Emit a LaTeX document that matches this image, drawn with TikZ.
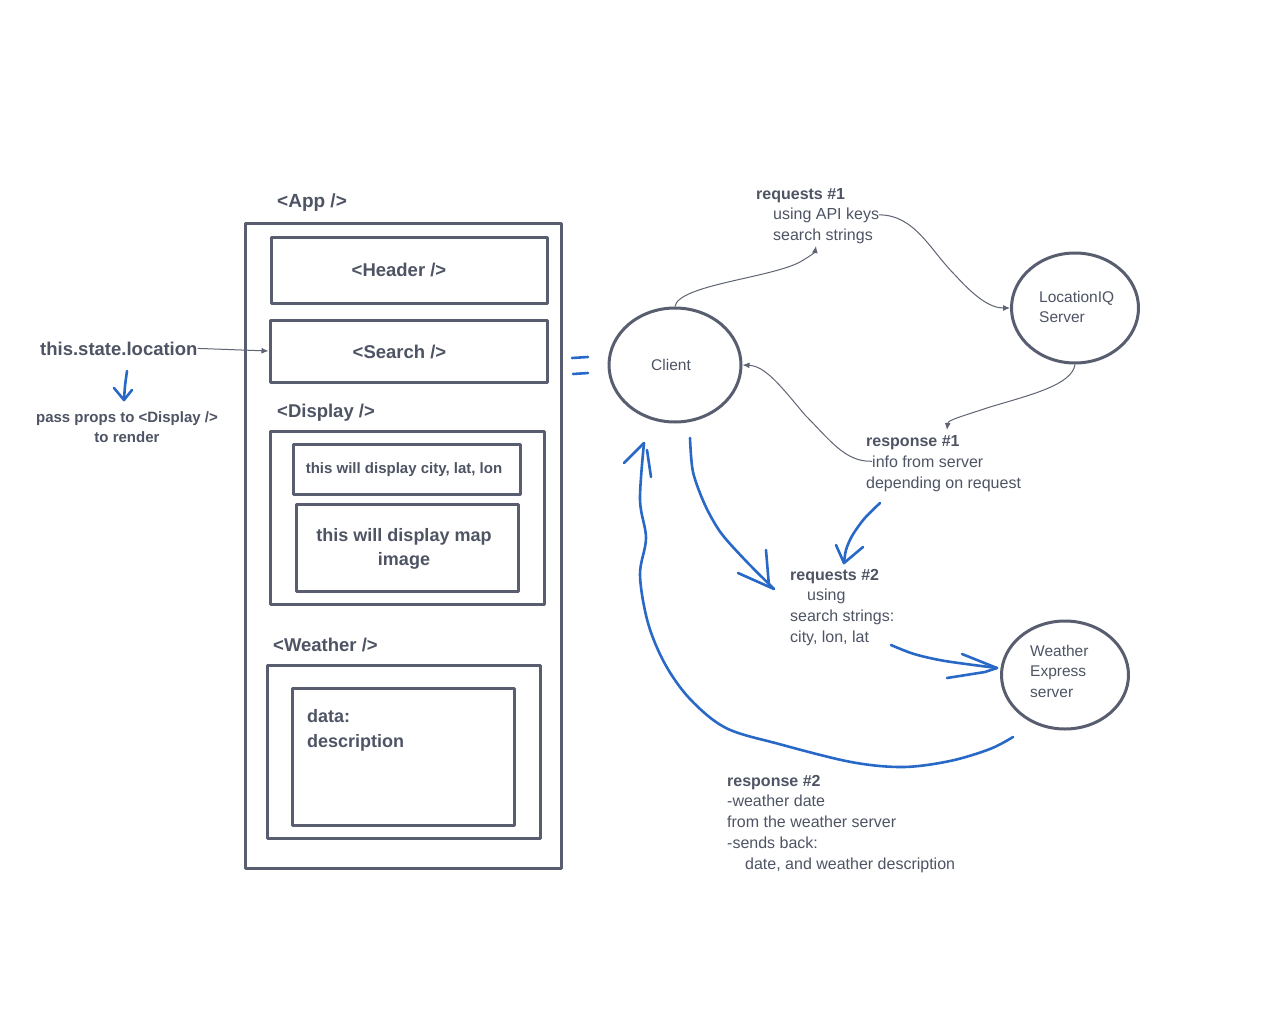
\documentclass[tikz,border=0pt]{standalone}
\usepackage{fontspec}
\setmainfont{Liberation Sans}
\usetikzlibrary{arrows.meta,shapes.geometric}
\definecolor{ink}{RGB}{78,84,100}
\definecolor{boxline}{RGB}{88,94,112}
\definecolor{thinline}{RGB}{95,100,115}
\definecolor{pen}{RGB}{40,105,200}
\tikzset{
  box/.style={draw=boxline, line width=3pt, rectangle, inner sep=0pt, line join=round},
  bubble/.style={draw=boxline, line width=3pt, ellipse, inner sep=0pt},
  txt/.style={text=ink, inner sep=0pt, anchor=base west, font=\fontsize{16}{19}\selectfont},
  ttl/.style={txt, font=\fontsize{16}{19}\selectfont\bfseries},
  ctxt/.style={txt, font=\fontsize{15.5}{19}\selectfont},
  lbl/.style={text=ink, inner sep=0pt, font=\fontsize{18.5}{22}\selectfont\bfseries},
  slbl/.style={text=ink, inner sep=0pt, font=\fontsize{15}{18}\selectfont\bfseries},
  link/.style={draw=thinline, line width=1pt, -{Latex[length=7pt,width=6pt]}},
  penstroke/.style={draw=pen, line width=2.6pt, line cap=round, line join=round},
}
\begin{document}
\begin{tikzpicture}[x=1pt,y=-1pt]
\fill[white] (0,0) rectangle (1278,1036);
\useasboundingbox (0,0) rectangle (1278,1036);

% ---- App component tree ----
\node[box, minimum width=316pt, minimum height=645pt] (app) at (403,545.5) {};
\node[lbl, anchor=base west, font=\fontsize{19}{22}\selectfont\bfseries] (applbl) at (277,207) {<App />};
\node[box, minimum width=276pt, minimum height=66pt] (header) at (409,270) {};
\node[lbl, anchor=base] (headerlbl) at (399,276) {<Header />};
\node[box, minimum width=277pt, minimum height=62pt] (search) at (408.5,351) {};
\node[lbl, anchor=base] (searchlbl) at (399.5,358) {<Search />};
\node[lbl, anchor=base west] (displbl) at (277,417) {<Display />};
\node[box, minimum width=274pt, minimum height=173pt] (display) at (407,517.5) {};
\node[box, minimum width=227pt, minimum height=50pt] (city) at (406.5,469) {};
\node[slbl, anchor=base] (citylbl) at (404,473) {this will display city, lat, lon};
\node[box, minimum width=222pt, minimum height=87pt] (map) at (407,547.5) {};
\node[lbl, anchor=base, font=\fontsize{18}{22}\selectfont\bfseries] (maplbl1) at (404,541) {this will display map};
\node[lbl, anchor=base, font=\fontsize{18}{22}\selectfont\bfseries] (maplbl2) at (404,565) {image};
\node[lbl, anchor=base west] (weatherlbl) at (273,651) {<Weather />};
\node[box, minimum width=273pt, minimum height=173pt] (weather) at (403.5,751.5) {};
\node[box, minimum width=222pt, minimum height=137pt] (wdata) at (403,756.5) {};
\node[lbl, anchor=base west, font=\fontsize{18}{22}\selectfont\bfseries] (data1) at (307,722) {data:};
\node[lbl, anchor=base west, font=\fontsize{18}{22}\selectfont\bfseries] (data2) at (307,747) {description};

% ---- left notes ----
\node[lbl, anchor=base west] (tsl) at (40,355) {this.state.location};
\draw[link] (tsl.east) -- (search.west);
\node[slbl, anchor=base] (pp1) at (127,422) {pass props to <Display />};
\node[slbl, anchor=base] (pp2) at (127,442) {to render};

% ---- circles ----
\node[bubble, minimum width=132pt, minimum height=114pt] (client) at (675,365) {};
\node[ctxt, anchor=base] (clientlbl) at (671,370) {Client};
\node[bubble, minimum width=127pt, minimum height=110pt] (liq) at (1075,308) {};
\node[ctxt] (liq1) at (1039,302) {LocationIQ};
\node[ctxt] (liq2) at (1039,322) {Server};
\node[bubble, minimum width=127pt, minimum height=108pt] (wes) at (1065,675) {};
\node[ctxt] (wes1) at (1030,656) {Weather};
\node[ctxt] (wes2) at (1030,676) {Express};
\node[ctxt] (wes3) at (1030,697) {server};

% ---- request / response labels ----
\node[ttl] (rq1) at (756,199) {requests \#1};
\node[txt] (usingapi) at (773,219) {using API keys};
\node[txt] (sstr1) at (773,240) {search strings};
\coordinate (r1tip) at (816,246);

\node[ttl] (rs1) at (866,446) {response \#1};
\node[txt] (infosrv) at (872,467) {info from server};
\node[txt] (depend) at (866,488) {depending on request};
\coordinate (rs1tip) at (947,430);

\node[ttl] (rq2) at (790,580) {requests \#2};
\node[txt] (using2) at (807,600) {using};
\node[txt] (sstr2) at (790,621) {search strings:};
\node[txt] (cll) at (790,642) {city, lon, lat};

\node[ttl] (rs2) at (727,786) {response \#2};
\node[txt] (rs2a) at (727,806) {-weather date};
\node[txt] (rs2b) at (727,827) {from the weather server};
\node[txt] (rs2c) at (727,848) {-sends back:};
\node[txt] (rs2d) at (745,869) {date, and weather description};

% ---- thin connectors ----
\draw[link] (client.north) .. controls (678,285) and (770,278) .. (800,262)
   .. controls (812,255) and (815,252) .. (r1tip);
\draw[link] (usingapi.east) .. controls (915,215) and (930,250) .. (955,275)
   .. controls (975,297) and (990,308) .. (liq.west);
\draw[link] (liq.south) .. controls (1072,385) and (1030,395) .. (990,407)
   .. controls (960,417) and (948,420) .. (rs1tip);
\draw[link] (infosrv.west) .. controls (845,462) and (830,440) .. (805,415)
   .. controls (780,385) and (765,366) .. (client.east);

% ---- hand-drawn blue strokes ----
% equals sign
\draw[penstroke] (572,358) -- (588,357);
\draw[penstroke] (573,374) -- (588,373);
% pass props arrow
\draw[penstroke] plot[smooth] coordinates {(127,371) (125,386) (124,400)};
\draw[penstroke] (114,388) -- (124,400) -- (132,390);
% client -> requests #2
\coordinate (b1s) at (690,438);
\coordinate (b1e) at (774,589);
\draw[penstroke] plot[smooth] coordinates {(b1s) (693,472) (705,505) (721,533) (746,561) (b1e)};
\draw[penstroke] (738,573) -- (b1e);
\draw[penstroke] (766,550) -- (769,586);
% response #1 -> requests #2
\coordinate (b2s) at (880,503);
\coordinate (b2e) at (844,563);
\draw[penstroke] plot[smooth] coordinates {(b2s) (864,519) (852,536) (846,550) (b2e)};
\draw[penstroke] (836,545) -- (b2e) -- (863,547);
% requests #2 -> weather server
\coordinate (b3s) at (891,645);
\coordinate (b3e) at (997,668);
\draw[penstroke] plot[smooth] coordinates {(b3s) (914,654) (945,661) (b3e)};
\draw[penstroke] (962,654) -- (b3e);
\draw[penstroke] (947,678) -- (985,672) -- (b3e);
% weather server -> client (response #2)
\coordinate (b4s) at (1013,737);
\coordinate (b4e) at (644,443);
\draw[penstroke] plot[smooth, tension=0.55] coordinates {(b4s) (990,749) (950,761) (903,767) (851,762)
   (779,744) (726,728) (690,699) (665,664) (648,623) (640,575) (646,538) (640,500) (b4e)};
\draw[penstroke] (624,463) -- (b4e);
\draw[penstroke] (651,477) -- (647,450);
\end{tikzpicture}
\end{document}
